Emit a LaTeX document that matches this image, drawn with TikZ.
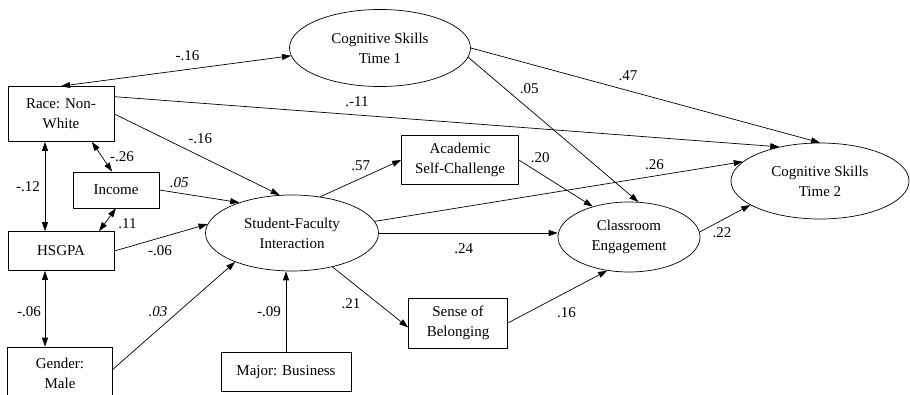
\documentclass[tikz,border=0pt]{standalone}
\usepackage{fontspec}
\setmainfont{Liberation Serif}
\usetikzlibrary{arrows.meta,shapes.geometric}

\begin{document}
\begin{tikzpicture}[
        x=1pt, y=-1pt,
        every node/.style={align=center, font=\fontsize{15}{20}\selectfont},
        var/.style={draw, rectangle, inner sep=0pt, line width=0.7pt},
        lat/.style={draw, ellipse, inner sep=0pt, line width=0.7pt},
        effect/.style={-{Triangle[length=9pt,width=6pt]}, line width=0.7pt},
        cov/.style={{Triangle[length=9pt,width=6pt]}-{Triangle[length=9pt,width=6pt]}, line width=0.7pt},
        coef/.style={inner sep=1pt}
    ]
        \useasboundingbox (0,0) rectangle (910,395);

        % Observed variables (boxes) and latent ones (ellipses)
        \node[lat, minimum width=181pt, minimum height=77pt] (cog1) at (380,48) {Cognitive Skills\\Time 1};
        \node[var, minimum width=106pt, minimum height=55pt] (race) at (61,114) {Race: Non-\\White};
        \node[var, minimum width=86pt, minimum height=36pt] (inc) at (116,190) {Income};
        \node[var, minimum width=106pt, minimum height=39pt] (hsgpa) at (61,251) {HSGPA};
        \node[var, minimum width=105pt, minimum height=52pt] (gender) at (60,373) {Gender:\\Male};
        \node[var, minimum width=130pt, minimum height=39pt] (major) at (286,372) {Major: Business};
        \node[lat, minimum width=173pt, minimum height=76pt] (sfi) at (292,233) {Student-Faculty\\Interaction};
        \node[var, minimum width=117pt, minimum height=49pt] (asc) at (460,160) {Academic\\Self-Challenge};
        \node[var, minimum width=99pt, minimum height=50pt] (sob) at (458,323) {Sense of\\Belonging};
        \node[lat, minimum width=142pt, minimum height=70pt] (ce) at (629,237) {Classroom\\Engagement};
        \node[lat, minimum width=178pt, minimum height=76pt] (cog2) at (820,181) {Cognitive Skills\\Time 2};

        % Correlations (double headed)
        \draw[cov] (race.north) -- node[coef, pos=.55, yshift=14pt] {-.16} (cog1.185);
        \draw[cov] (race.-42) -- node[coef, pos=.5, xshift=20pt] {-.26} (inc.102);
        \draw[cov] ([xshift=-16pt]race.south) -- node[coef, pos=.5, xshift=-17pt] {-.12} ([xshift=-16pt]hsgpa.north);
        \draw[cov] (inc.south) -- node[coef, pos=.5, xshift=20pt, yshift=-4pt] {.11} ([xshift=38pt]hsgpa.north);
        \draw[cov] ([xshift=-16pt]hsgpa.south) -- node[coef, pos=.5, xshift=-16pt, yshift=-3pt] {-.06} ([xshift=-15pt]gender.north);

        % Paths into Student-Faculty Interaction
        \draw[effect] (race.east) -- node[coef, pos=.52, yshift=17pt] {-.16} (sfi.108);
        \draw[effect] (inc.east) -- node[coef, pos=.25, yshift=11pt] {\textit{.05}} (sfi.150);
        \draw[effect] (hsgpa.east) -- node[coef, pos=.49, yshift=-13pt] {-.06} (sfi.174);
        \draw[effect] (gender.4) -- node[coef, pos=.37, yshift=18pt] {\textit{.03}} (sfi.207);
        \draw[effect] (major.north) -- node[coef, pos=.5, xshift=-17pt] {-.09} (major.north |- sfi.south);

        % Paths out of Student-Faculty Interaction
        \draw[effect] (sfi.52) -- node[coef, pos=.5, yshift=13pt] {.57} (asc.west);
        \draw[effect] (sfi.8) -- node[coef, pos=.76, yshift=11pt] {.26} (cog2.166);
        \draw[effect] (sfi.east) -- node[coef, pos=.475, yshift=-16pt] {.24} (sfi.east -| ce.west);
        \draw[effect] (sfi.-40) -- node[coef, pos=.35, xshift=-8pt, yshift=-16pt] {.21} (sob.185);

        % Into engagement and Time 2
        \draw[effect] (asc.east) -- node[coef, pos=.29, yshift=16pt] {.20} (ce.140);
        \draw[effect] (sob.east) -- node[coef, pos=.5, xshift=9pt, yshift=-16pt] {.16} (ce.237);
        \draw[effect] (cog1.-6) -- node[coef, pos=.3, xshift=10pt, yshift=12pt] {.05} (ce.75);
        \draw[effect] (cog1.east) -- node[coef, pos=.45, yshift=15pt] {.47} (cog2.north);
        \draw[effect] (race.18) -- node[coef, pos=.365, yshift=13pt] {.-11} (cog2.140);
        \draw[effect] (ce.4) -- node[coef, pos=.44, yshift=-12pt] {.22} (cog2.199);
    \end{tikzpicture}
\end{document}
